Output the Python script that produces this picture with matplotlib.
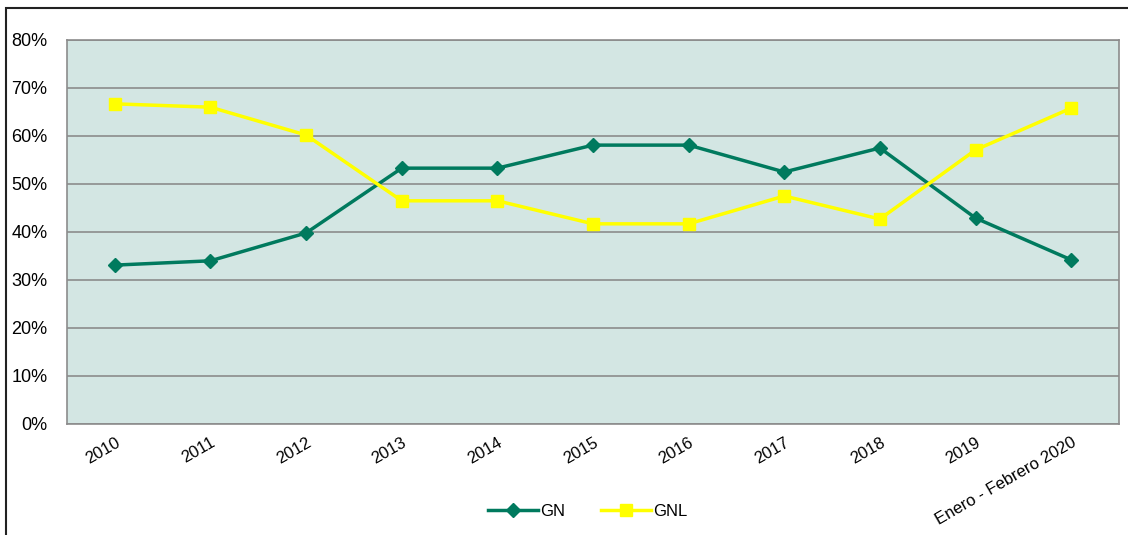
import matplotlib
matplotlib.use('Agg')
import matplotlib.pyplot as plt
from matplotlib.patches import Rectangle
from matplotlib.ticker import FuncFormatter

categories = ['2010', '2011', '2012', '2013', '2014', '2015', '2016', '2017',
              '2018', '2019', 'Enero - Febrero 2020']
gn = [33.1, 34.0, 39.8, 53.3, 53.3, 58.1, 58.1, 52.5, 57.5, 42.9, 34.2]
gnl = [66.7, 66.0, 60.2, 46.5, 46.5, 41.7, 41.7, 47.5, 42.7, 57.1, 65.8]

plt.rcParams['font.family'] = ['Liberation Sans', 'DejaVu Sans']

fig = plt.figure(figsize=(11.28, 5.35), dpi=100)
# outer chart frame
fig.patches.append(Rectangle((6 / 1128, -0.1), 1.2, 1 - 8 / 535 + 0.1,
                             transform=fig.transFigure, fill=False,
                             edgecolor='#222222', linewidth=1.5))

ax = fig.add_axes([67 / 1128, 1 - 424 / 535, (1119 - 67) / 1128, (424 - 40) / 535])
ax.set_facecolor('#d3e6e3')
x = list(range(len(categories)))
ax.plot(x, gn, color='#007a5e', linewidth=2.5, marker='D', markersize=7,
        label='GN', zorder=3)
ax.plot(x, gnl, color='#ffff00', linewidth=2.5, marker='s', markersize=8,
        label='GNL', zorder=3)

ax.set_xlim(-0.5, len(categories) - 0.5)
ax.set_ylim(0, 80)
ax.set_yticks(range(0, 81, 10))
ax.yaxis.set_major_formatter(FuncFormatter(lambda v, p: '%d%%' % v))
ax.yaxis.grid(True, color='#8c8c8c', linewidth=1.2)
ax.set_axisbelow(True)
for s in ax.spines.values():
    s.set_color('#8c8c8c')
    s.set_linewidth(1.2)
ax.tick_params(axis='y', length=0, labelsize=13, pad=14)
ax.tick_params(axis='x', length=0, labelsize=12, pad=8)
ax.set_xticks(x)
ax.set_xticklabels(categories, rotation=30, ha='right', rotation_mode='anchor')

ax.legend(loc='upper center', bbox_to_anchor=(0.495, -0.17), ncol=2, frameon=False,
          fontsize=12, handlelength=3, columnspacing=2.2, handletextpad=0.1)

plt.savefig('out.png', dpi=100)
